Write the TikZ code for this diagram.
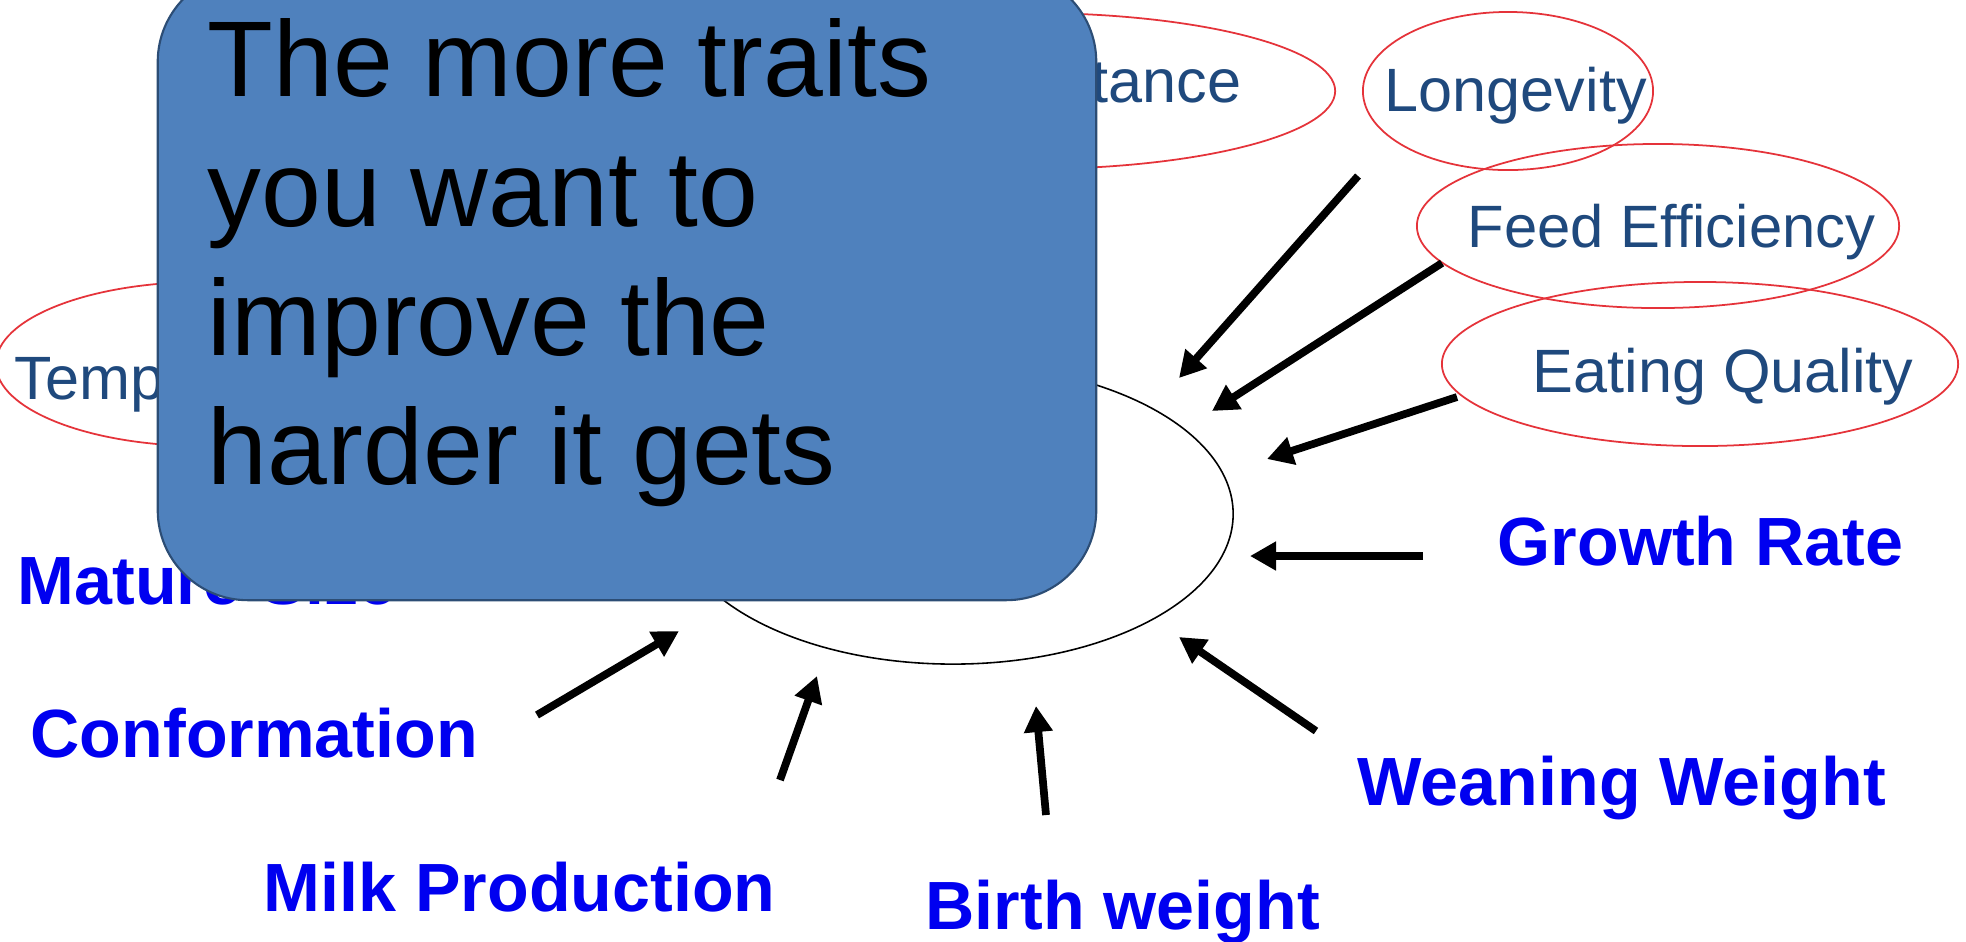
\documentclass[tikz,border=0pt]{standalone}
\usepackage{fontspec}
\setmainfont{Liberation Sans}
\usetikzlibrary{arrows.meta,shapes.geometric}
\definecolor{boxfill}{HTML}{4F81BD}
\definecolor{boxline}{HTML}{2C4D75}
\definecolor{traitblue}{HTML}{0000F0}
\definecolor{navytext}{HTML}{1F497D}
\definecolor{ringred}{HTML}{E5333A}

\begin{document}
\begin{tikzpicture}[x=0.01cm,y=-0.01cm,
  ring/.style={draw=ringred,line width=0.5pt,ellipse,inner sep=0pt},
  softlabel/.style={anchor=base west,inner sep=0pt,text=navytext,font=\fontsize{17.4}{20}\selectfont},
  traitlabel/.style={anchor=base west,inner sep=0pt,text=traitblue,font=\fontsize{19.4}{23}\selectfont\bfseries},
  pointer/.style={line width=2.2pt,-{Triangle[length=7.4pt,width=7.8pt]}}]
\useasboundingbox (0,0) rectangle (1966,941);
\fill[white] (0,0) rectangle (1966,941);

% red outlined trait ellipses
\node[ring,minimum width=6.1cm,minimum height=1.56cm] (disring) at (1030,91) {};
\node[ring,minimum width=2.9cm,minimum height=1.58cm] (lonring) at (1508,91) {};
\node[ring,minimum width=4.82cm,minimum height=1.64cm] (feedring) at (1658,226) {};
\node[ring,minimum width=5.16cm,minimum height=1.64cm] (eatring) at (1700,364) {};
\node[ring,minimum width=4.14cm,minimum height=1.64cm] (tempring) at (203,364) {};

% labels inside the ellipses
\node[softlabel,anchor=base east] (dis) at (1242,102) {Disease Resistance};
\node[softlabel] (lon) at (1384,111) {Longevity};
\node[softlabel,font=\fontsize{17}{20}\selectfont] (feed) at (1467,247) {Feed Efficiency};
\node[softlabel] (eat) at (1532,392) {Eating Quality};
\node[softlabel] (temp) at (14,399) {Temperament};

% bold blue trait names
\node[traitlabel] (mature) at (17,604) {Mature Size};
\node[traitlabel] (growth) at (1497,565) {Growth Rate};
\node[traitlabel] (conf) at (30,757) {Conformation};
\node[traitlabel] (wean) at (1357,805) {Weaning Weight};
\node[traitlabel] (milk) at (263,911) {Milk Production};
\node[traitlabel] (birth) at (925,929) {Birth weight};

% central target ellipse
\node[draw=black,line width=0.45pt,ellipse,minimum width=5.6cm,minimum height=3.0cm,inner sep=0pt] (herd) at (953,514) {};

% arrow end points
\coordinate (lonT) at (1358,176);  \coordinate (lonH) at (1179,378);
\coordinate (feedT) at (1442,263); \coordinate (feedH) at (1212,411);
\coordinate (eatT) at (1457,397);  \coordinate (eatH) at (1267,459);
\coordinate (growT) at (1423,556); \coordinate (growH) at (1250,556);
\coordinate (weanT) at (1316,731); \coordinate (weanH) at (1179,637);
\coordinate (birthT) at (1046,815);\coordinate (birthH) at (1036,706);
\coordinate (milkT) at (780,780);  \coordinate (milkH) at (817,676);
\coordinate (confT) at (537,715);  \coordinate (confH) at (679,631);

\foreach \a in {lon,feed,eat,grow,wean,birth,milk,conf}
  \draw[pointer] (\a T) -- (\a H);

% callout box on top
\node[draw=boxline,line width=0.6pt,fill=boxfill,rounded corners=0.9cm,minimum width=9.38cm,minimum height=6.28cm,inner sep=0pt] (note) at (627,286) {};
\node[anchor=north west,inner sep=0pt,align=left,font=\fontsize{30.6}{36.8}\selectfont] (msg) at (207,18) {The more traits\\you want to\\improve the\\harder it gets};
\end{tikzpicture}
\end{document}
